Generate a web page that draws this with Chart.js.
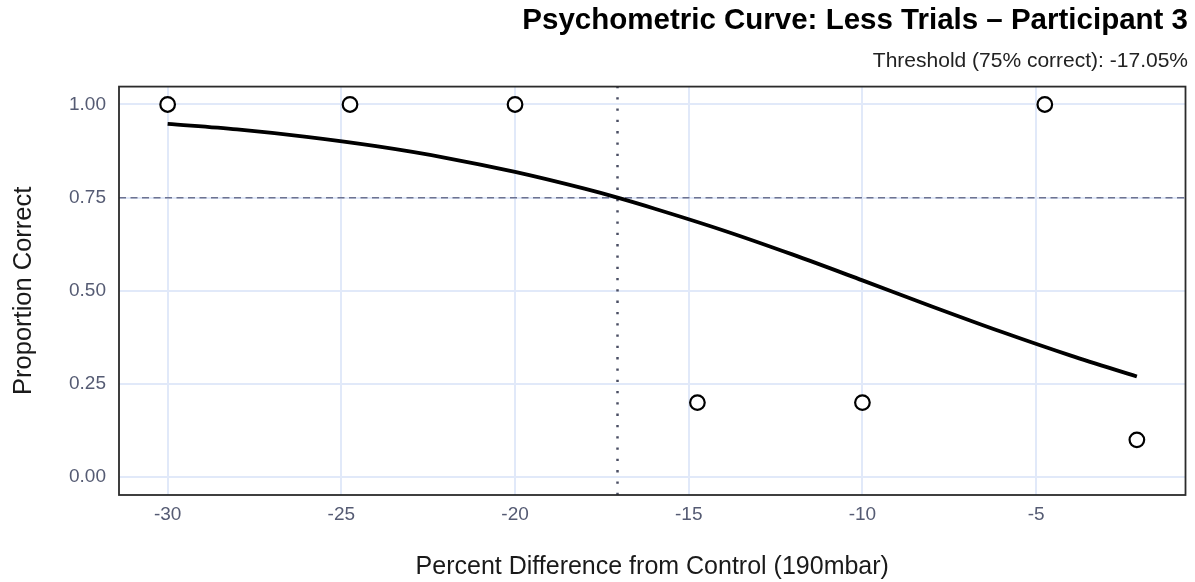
<!DOCTYPE html>
<html>
<head>
<meta charset="utf-8">
<script src="https://cdn.jsdelivr.net/npm/chart.js@4"></script>
<style>
  body { margin: 0; background: #fff; }
  #wrap { width: 1195px; height: 582px; }
</style>
</head>
<body>
<div id="wrap"><canvas id="chart"></canvas></div>
<script>
// -------------------------
// Data
// -------------------------
const trialX = [-30, -24.75, -20, -14.75, -10, -4.75, -2.1];
const trialY = [1, 1, 1, 0.2, 0.2, 1, 0.1];

// fitted curve, sampled by eye
const curveX = [-30, -28, -26, -24, -22, -20, -18, -17.05, -16, -14, -12, -10, -8, -6, -4, -2.1];
const curveY = [0.948, 0.933, 0.913, 0.888, 0.857, 0.819, 0.774, 0.75, 0.721, 0.662, 0.597, 0.528, 0.458, 0.390, 0.326, 0.270];

const THRESHOLD_X = -17.05;
const TARGET_Y = 0.75;

const xTicks = [-30, -25, -20, -15, -10, -5];
const yTicks = [0, 0.25, 0.5, 0.75, 1];

const X_MIN = -31.4, X_MAX = -0.7;
const Y_MIN = -0.048, Y_MAX = 1.048;

const FONT = "'Liberation Sans', Arial, Helvetica, sans-serif";

// -------------------------
// Panel border (full box)
// -------------------------
const panelBorder = {
  id: "panelBorder",
  afterDraw(chart) {
    const { ctx, chartArea: a } = chart;
    ctx.save();
    ctx.strokeStyle = "#2b2b2b";
    ctx.lineWidth = 1.8;
    ctx.strokeRect(a.left, a.top, a.right - a.left, a.bottom - a.top);
    ctx.restore();
  }
};

const toPts = (xs, ys) => xs.map((x, i) => ({ x: x, y: ys[i] }));

new Chart(document.getElementById("chart"), {
  type: "scatter",
  data: {
    datasets: [
      {
        label: "Trials",
        data: toPts(trialX, trialY),
        pointRadius: 7.3,
        pointBorderWidth: 2.2,
        pointBackgroundColor: "#ffffff",
        pointBorderColor: "#000000",
        showLine: false,
        clip: false,
        order: 0
      },
      {
        label: "Fit",
        data: toPts(curveX, curveY),
        showLine: true,
        borderColor: "#000000",
        borderWidth: 3.8,
        pointRadius: 0,
        cubicInterpolationMode: "monotone",
        order: 1
      },
      {
        label: "75%",
        data: [{ x: X_MIN, y: TARGET_Y }, { x: X_MAX, y: TARGET_Y }],
        showLine: true,
        borderColor: "#6d7391",
        borderWidth: 1.5,
        borderDash: [7, 4.5],
        pointRadius: 0,
        order: 2
      },
      {
        label: "Threshold",
        data: [{ x: THRESHOLD_X, y: Y_MIN }, { x: THRESHOLD_X, y: Y_MAX }],
        showLine: true,
        borderColor: "#4a4e63",
        borderWidth: 2.5,
        borderDash: [2.3, 9],
        pointRadius: 0,
        order: 3
      }
    ]
  },
  options: {
    responsive: true,
    maintainAspectRatio: false,
    animation: false,
    layout: { padding: { top: 0, right: 7, bottom: 0, left: 0 } },
    plugins: {
      legend: { display: false },
      tooltip: { enabled: false },
      title: {
        display: true,
        text: "Psychometric Curve: Less Trials \u2013 Participant 3",
        align: "end",
        color: "#000",
        font: { family: FONT, size: 29.5, weight: "bold" },
        padding: { top: 3, bottom: 10 }
      },
      subtitle: {
        display: true,
        text: "Threshold (75% correct): -17.05%",
        align: "end",
        color: "#222",
        font: { family: FONT, size: 21 },
        padding: { top: 0, bottom: 13 }
      }
    },
    scales: {
      x: {
        type: "linear",
        min: X_MIN,
        max: X_MAX,
        afterBuildTicks: s => { s.ticks = xTicks.map(v => ({ value: v })); },
        afterFit: s => { s.height = 87; },
        grid: { color: "#e1e9f9", lineWidth: 2, drawTicks: false },
        border: { display: false },
        ticks: { color: "#555b73", font: { family: FONT, size: 19 }, padding: 8.5, maxRotation: 0 },
        title: {
          display: true,
          text: "Percent Difference from Control (190mbar)",
          color: "#1a1a1a",
          font: { family: FONT, size: 25 },
          padding: { top: 0, bottom: 0 }
        }
      },
      y: {
        type: "linear",
        min: Y_MIN,
        max: Y_MAX,
        afterBuildTicks: s => { s.ticks = yTicks.map(v => ({ value: v })); },
        afterFit: s => { s.width = 119; },
        grid: { color: "#e1e9f9", lineWidth: 2, drawTicks: false },
        border: { display: false },
        ticks: {
          color: "#555b73",
          font: { family: FONT, size: 19 },
          padding: 13,
          callback: v => Number(v).toFixed(2)
        },
        title: {
          display: true,
          text: "Proportion Correct",
          color: "#1a1a1a",
          font: { family: FONT, size: 25.5 },
          padding: { top: 9, bottom: 0 }
        }
      }
    }
  },
  plugins: [panelBorder]
});
</script>
</body>
</html>
